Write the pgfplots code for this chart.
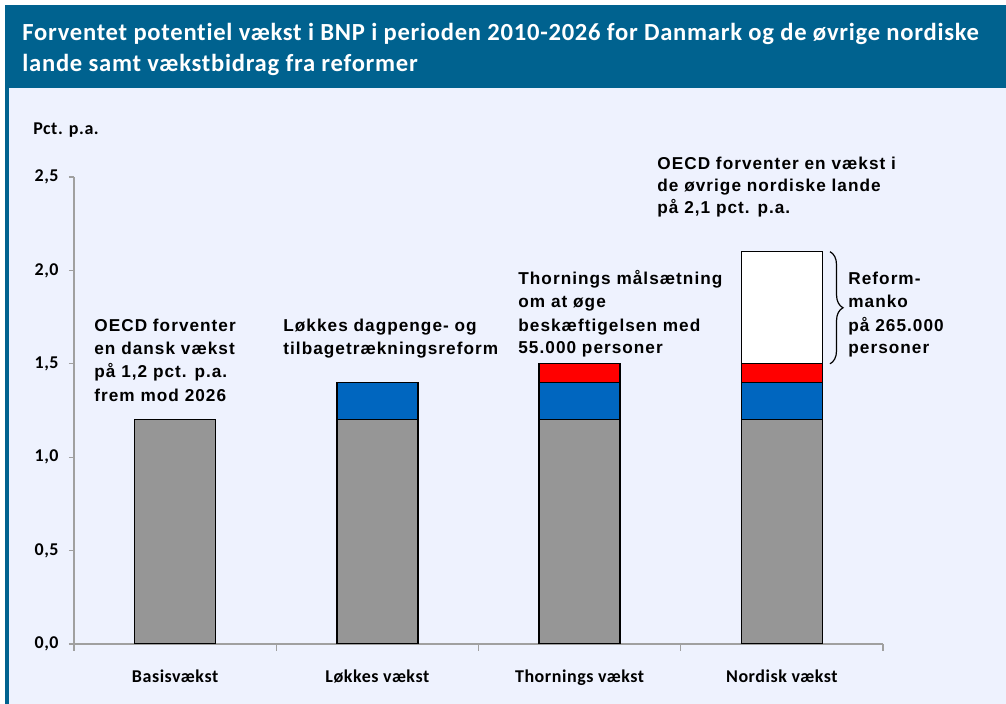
\documentclass[border=0pt]{standalone}
\usepackage{fontspec}
\setmainfont{Carlito}[LetterSpace=3, Ligatures={NoCommon}]
\newfontfamily\arialfont{Liberation Sans}[LetterSpace=6, Ligatures={NoCommon}]
\usepackage{pgfplots}
\pgfplotsset{compat=1.18}
\usetikzlibrary{decorations.pathreplacing}
\definecolor{banner}{RGB}{0,98,143}
\definecolor{lav}{RGB}{238,242,254}
\definecolor{gbar}{RGB}{150,150,150}
\definecolor{bbar}{RGB}{0,102,191}
\definecolor{rbar}{RGB}{255,0,0}
\definecolor{axisgray}{RGB}{160,160,160}
\newcommand\annfont{\arialfont\bfseries\fontsize{8.6}{11}\selectfont}
\begin{document}
\begin{tikzpicture}[x=0.5pt,y=0.5pt]
\fill[white] (0,0) rectangle (1006,704);
\fill[lav] (9,0) rectangle (1006,616);
\fill[banner] (5,616) rectangle (1006,699);
\fill[banner] (5,0) rectangle (9,616);
\begin{axis}[
  at={(37pt,30pt)}, anchor=south west,
  scale only axis, width=404.5pt, height=233.5pt,
  xmin=-0.5, xmax=3.5, ymin=0, ymax=2.5,
  axis x line=bottom, axis y line=left,
  axis line style={draw=axisgray, -, line width=0.6pt},
  ybar stacked, bar width=40.5pt,
  xtick={0,1,2,3},
  xticklabels={Basisvækst, Løkkes vækst, Thornings vækst, Nordisk vækst},
  minor xtick={-0.5,0.5,1.5,2.5,3.5},
  ytick={0,0.5,1,1.5,2,2.5},
  tick align=outside,
  major tick length=2.5pt, minor tick length=3.5pt,
  major x tick style={draw=none},
  minor x tick style={draw=axisgray, line width=0.6pt},
  major y tick style={draw=axisgray, line width=0.6pt},
  xticklabel style={font=\bfseries\fontsize{9}{11}\selectfont, yshift=-7pt},
  yticklabel style={font=\bfseries\fontsize{9}{10}\selectfont, anchor=east, inner sep=0pt, xshift=-5pt},
  /pgf/number format/.cd, use comma, fixed, fixed zerofill, precision=1, assume math mode=true,
]
\addplot[fill=gbar, draw=black, line width=0.65pt] coordinates {(0,1.2) (1,1.2) (2,1.2) (3,1.2)};
\addplot[fill=bbar, draw=black, line width=0.65pt] coordinates {(0,0) (1,0.2) (2,0.2) (3,0.2)};
\addplot[fill=rbar, draw=black, line width=0.65pt] coordinates {(0,0) (1,0) (2,0.1) (3,0.1)};
\addplot[fill=white, draw=black, line width=0.65pt] coordinates {(0,0) (1,0) (2,0) (3,0.6)};
\draw[decorate, decoration={brace, amplitude=6.5pt}, line width=0.6pt] (axis cs:3.238,2.1) -- (axis cs:3.238,1.5);
\end{axis}
% title
\node[anchor=base west, white, inner sep=0pt, font=\bfseries\fontsize{12.3}{14}\selectfont] at (22,663) {Forventet potentiel vækst i BNP i perioden 2010-2026 for Danmark og de øvrige nordiske};
\node[anchor=base west, white, inner sep=0pt, font=\bfseries\fontsize{12.3}{14}\selectfont] at (22,632) {lande samt vækstbidrag fra reformer};
\node[anchor=base west, inner sep=0pt, font=\bfseries\fontsize{9}{10}\selectfont] at (33,569) {Pct. p.a.};
% annotations
\newcommand\ann[3]{\node[anchor=base west, inner sep=0pt, font=\annfont] at (#1,704-#2) {#3};}
\ann{94}{332}{OECD forventer}
\ann{94}{355}{en dansk vækst}
\ann{94}{378}{på 1,2 pct. p.a.}
\ann{94}{402}{frem mod 2026}
\ann{283}{332}{Løkkes dagpenge- og}
\ann{283}{355}{tilbagetrækningsreform}
\ann{518}{285}{Thornings målsætning}
\ann{518}{308}{om at øge}
\ann{518}{332}{beskæftigelsen med}
\ann{518}{354}{55.000 personer}
\ann{657}{170}{OECD forventer en vækst i}
\ann{657}{192}{de øvrige nordiske lande}
\ann{657}{214}{på 2,1 pct. p.a.}
\ann{848}{285}{Reform-}
\ann{848}{308}{manko}
\ann{848}{332}{på 265.000}
\ann{848}{354}{personer}
\end{tikzpicture}
\end{document}
